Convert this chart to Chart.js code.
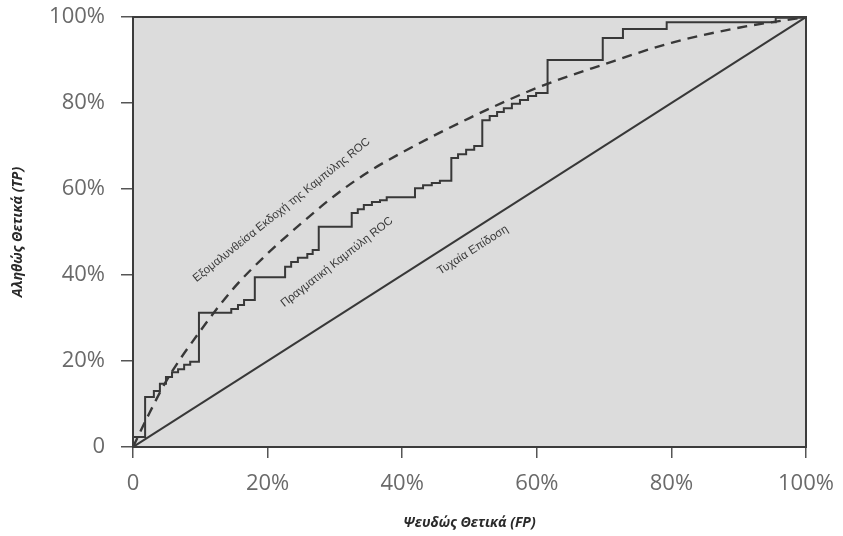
<!DOCTYPE html>
<html lang="el">
<head>
<meta charset="utf-8">
<title>Καμπύλη ROC</title>
<script src="https://cdn.jsdelivr.net/npm/chart.js@4/dist/chart.umd.min.js"></script>
<style>
  html, body { margin: 0; padding: 0; background: #ffffff; }
  #wrap { width: 843px; height: 536px; }
</style>
</head>
<body>
<div id="wrap"><canvas id="roc" width="843" height="536"></canvas></div>
<script>
// Axis tick labels (percent)
const tickValues = [0, 20, 40, 60, 80, 100];
const tickLabels = ['0', '20%', '40%', '60%', '80%', '100%'];

// Actual ROC curve: false positive rate / true positive rate (%) at each step
const actualFP = [0, 0, 1.8, 3.1, 4.0, 4.9, 5.8, 6.7, 7.6, 8.5, 9.8, 14.6, 15.6, 16.5, 18.1,
  22.6, 23.5, 24.5, 25.9, 26.7, 27.6, 32.5, 33.4, 34.3, 35.5, 36.7, 37.7, 41.9, 43.1, 44.4,
  45.6, 47.3, 48.3, 49.5, 50.7, 51.9, 53.0, 54.1, 55.1, 56.3, 57.5, 58.7, 59.9, 61.6, 69.8,
  72.8, 79.3, 95.5, 100];
const actualTP = [0, 2.3, 11.6, 13.0, 14.7, 16.3, 17.4, 18.1, 19.1, 19.8, 31.2, 32.1, 33.0, 34.2, 39.5,
  41.9, 43.0, 44.0, 44.9, 45.8, 51.2, 54.4, 55.3, 56.3, 57.0, 57.4, 58.1, 60.2, 60.9, 61.4,
  61.9, 67.2, 68.1, 69.1, 70.0, 76.0, 77.0, 77.9, 78.8, 79.8, 80.7, 81.6, 82.3, 90.0, 95.1,
  97.2, 98.8, 99.8, 100];

// Smoothed ROC curve
const smoothFP = [0, 2, 5, 10, 15, 20, 25, 30, 35, 40, 50, 60, 70, 80, 90, 100];
const smoothTP = [0, 6.5, 15.5, 27, 37, 45, 52, 58.5, 64, 68.5, 76.5, 83.5, 89, 94, 97.5, 100];

// Random performance (diagonal)
const randomFP = [0, 100];
const randomTP = [0, 100];

// Curve captions
const captions = ['Εξομαλυνθείσα Εκδοχή της Καμπύλης ROC', 'Πραγματική Καμπύλη ROC', 'Τυχαία Επίδοση'];
const captionFP = [22.1, 30.3, 50.5];
const captionTP = [55.1, 43.0, 45.8];

const toPoints = (xs, ys) => xs.map((x, i) => ({ x: x, y: ys[i] }));

const INK = '#383838';
const PLOT_BG = '#dcdcdc';

// Grey plotting area with a dark frame, plus rotated captions along the curves
const framePlugin = {
  id: 'frame',
  beforeDatasetsDraw(chart) {
    const { ctx, chartArea: a } = chart;
    ctx.save();
    ctx.fillStyle = PLOT_BG;
    ctx.fillRect(a.left, a.top, a.right - a.left, a.bottom - a.top);
    ctx.restore();
  },
  afterDatasetsDraw(chart) {
    const { ctx, chartArea: a, scales } = chart;
    ctx.save();
    ctx.strokeStyle = '#3c3c3c';
    ctx.lineWidth = 2;
    ctx.strokeRect(a.left, a.top, a.right - a.left, a.bottom - a.top);

    const angles = [-38.7, -38.0, -32.6];
    ctx.fillStyle = '#3a3a3a';
    ctx.font = '11.5px "Liberation Sans", Arial, sans-serif';
    ctx.textAlign = 'center';
    ctx.textBaseline = 'middle';
    captions.forEach((t, i) => {
      const px = scales.x.getPixelForValue(captionFP[i]);
      const py = scales.y.getPixelForValue(captionTP[i]);
      ctx.save();
      ctx.translate(px, py);
      ctx.rotate(angles[i] * Math.PI / 180);
      ctx.fillText(t, 0, 0);
      ctx.restore();
    });
    ctx.restore();
  }
};

const tickFont = { family: '"Open Sans", "DejaVu Sans", sans-serif', size: 22, weight: '400' };
const titleFont = { family: '"Open Sans", "DejaVu Sans", sans-serif', size: 14, style: 'italic', weight: '700' };

new Chart(document.getElementById('roc'), {
  type: 'line',
  data: {
    datasets: [
      {
        label: 'Τυχαία Επίδοση',
        data: toPoints(randomFP, randomTP),
        borderColor: INK,
        borderWidth: 2,
        pointRadius: 0,
        fill: false
      },
      {
        label: 'Εξομαλυνθείσα Εκδοχή της Καμπύλης ROC',
        data: toPoints(smoothFP, smoothTP),
        borderColor: INK,
        borderWidth: 2.4,
        borderDash: [10, 7],
        pointRadius: 0,
        cubicInterpolationMode: 'monotone',
        fill: false
      },
      {
        label: 'Πραγματική Καμπύλη ROC',
        data: toPoints(actualFP, actualTP),
        borderColor: INK,
        borderWidth: 2,
        pointRadius: 0,
        stepped: true,
        fill: false
      }
    ]
  },
  options: {
    responsive: false,
    animation: false,
    layout: { padding: { top: 17, right: 37, left: 0, bottom: 0 } },
    plugins: {
      legend: { display: false },
      tooltip: { enabled: false }
    },
    scales: {
      x: {
        type: 'linear',
        min: 0,
        max: 100,
        afterFit(scale) {
          scale.height = 89;
          scale.paddingLeft = 0;
          scale.paddingRight = 0;
        },
        afterBuildTicks(scale) { scale.ticks = tickValues.map(v => ({ value: v })); },
        border: { display: false },
        grid: { drawOnChartArea: false, drawTicks: true, tickLength: 11, color: '#555555', lineWidth: 1.5 },
        ticks: {
          autoSkip: false,
          maxRotation: 0,
          padding: 13,
          color: '#6a6a6a',
          font: tickFont,
          callback: (v) => tickLabels[tickValues.indexOf(v)]
        },
        title: {
          display: true,
          text: 'Ψευδώς Θετικά (FP)',
          color: '#2a2a2a',
          font: titleFont,
          padding: { top: 0, bottom: 5 }
        }
      },
      y: {
        type: 'linear',
        min: 0,
        max: 100,
        afterFit(scale) {
          scale.width = 133;
          scale.paddingTop = 0;
          scale.paddingBottom = 0;
        },
        afterBuildTicks(scale) { scale.ticks = tickValues.map(v => ({ value: v })); },
        border: { display: false },
        grid: { drawOnChartArea: false, drawTicks: true, tickLength: 12, color: '#555555', lineWidth: 1.5 },
        ticks: {
          autoSkip: false,
          padding: 16,
          color: '#6a6a6a',
          font: tickFont,
          callback: (v) => tickLabels[tickValues.indexOf(v)]
        },
        title: {
          display: true,
          text: 'Αληθώς Θετικά (TP)',
          color: '#2a2a2a',
          font: titleFont,
          padding: { top: 10, bottom: 0 }
        }
      }
    }
  },
  plugins: [framePlugin]
});
</script>
</body>
</html>
